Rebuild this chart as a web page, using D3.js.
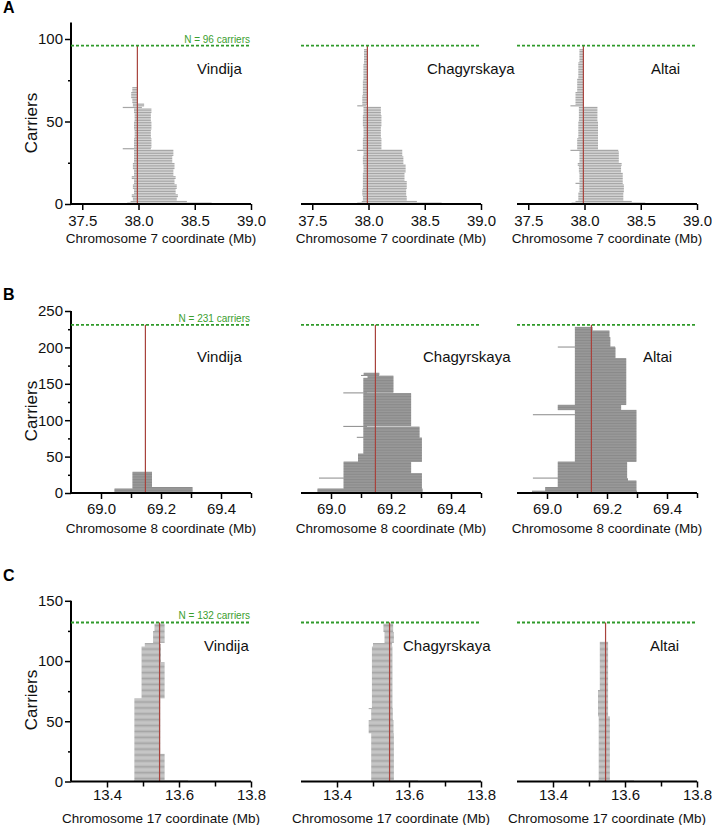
<!DOCTYPE html>
<html><head><meta charset="utf-8">
<script src="https://cdn.jsdelivr.net/npm/d3@7"></script>
<style>
body{margin:0;background:#fff}
svg{display:block;font-family:"Liberation Sans",Arial,sans-serif}
</style></head><body>
<svg id="chart" width="712" height="825"></svg>
<script>
// ---------------- DATA ----------------
const panelNames = ["Vindija", "Chagyrskaya", "Altai"];
const rowLetters = ["A", "B", "C"];
const axisTitles = ["Chromosome 7 coordinate (Mb)", "Chromosome 8 coordinate (Mb)", "Chromosome 17 coordinate (Mb)"];
const carrierTotals = [96, 231, 132];
const focalPositions = [37.99, 69.148, 13.546];
const xDomains = [[37.4, 39.0], [68.9, 69.5], [13.3, 13.8]];
const yDomainMax = [110, 250, 150];
const xMajorTicks = [[37.5, 38.0, 38.5, 39.0], [69.0, 69.2, 69.4], [13.4, 13.6, 13.8]];
const xMinorTicks = [[], [69.1, 69.3, 69.5], [13.5, 13.7]];
const yMajorTicks = [[0, 50, 100], [0, 50, 100, 150, 200, 250], [0, 50, 100, 150]];
const yMinorTicks = [[25, 75], [25, 75, 125, 175, 225], [25, 75, 125]];

// segments: [first carrier, last carrier, start (Mb), end (Mb)]
const chr7Vindija = [
  [1,1,37.90,38.65],[2,2,37.93,38.43],[3,4,37.95,38.34],[5,6,37.94,38.35],[7,9,37.96,38.33],
  [10,12,37.95,38.34],[13,15,37.96,38.32],[16,17,37.94,38.33],[18,21,37.96,38.31],[22,25,37.95,38.32],
  [26,29,37.96,38.30],[30,33,37.96,38.31],[34,34,37.86,38.11],[35,40,37.96,38.115],[41,45,37.965,38.11],
  [46,50,37.96,38.115],[51,55,37.965,38.11],[56,58,37.96,38.115],[59,59,37.86,38.03],[60,61,37.95,38.05],
  [62,64,37.945,37.99],[65,68,37.935,37.99],[69,71,37.945,37.99]
];
const chr7Chagyrskaya = [
  [1,1,37.90,38.65],[2,2,37.94,38.43],[3,5,37.95,38.34],[6,9,37.945,38.335],[10,14,37.95,38.34],
  [15,19,37.95,38.32],[20,24,37.955,38.33],[25,29,37.95,38.31],[30,32,37.955,38.30],[33,33,37.90,38.30],
  [34,40,37.95,38.115],[41,47,37.955,38.11],[48,54,37.95,38.115],[55,59,37.955,38.11],[60,60,37.90,37.98],
  [61,66,37.945,37.99],[67,75,37.95,37.99],[76,85,37.955,37.99],[86,94,37.96,37.99]
];
const chr7Altai = [
  [1,1,37.885,38.54],[2,2,37.92,38.42],[3,7,37.945,38.345],[8,12,37.955,38.35],[13,13,37.92,38.34],
  [14,19,37.955,38.34],[20,23,37.95,38.325],[24,25,37.94,38.33],[26,32,37.955,38.305],[33,33,37.875,38.30],
  [34,40,37.935,38.12],[41,50,37.945,38.12],[51,59,37.95,38.115],[60,60,37.875,37.99],[61,68,37.92,37.995],
  [69,76,37.935,37.995],[77,86,37.945,37.995],[87,94,37.955,37.995]
];
const chr8Vindija = [
  [1,1,68.955,69.305],[2,6,69.045,69.305],[7,8,69.105,69.305],[9,29,69.105,69.17]
];
const chr8Chagyrskaya = [
  [1,1,68.93,69.30],[2,6,68.955,69.305],[7,20,69.042,69.303],[21,21,68.96,69.303],[22,27,69.042,69.303],
  [28,43,69.042,69.267],[44,54,69.09,69.303],[55,76,69.108,69.303],[77,77,69.086,69.295],[78,91,69.108,69.295],
  [92,92,69.041,69.12],[93,137,69.108,69.267],[138,138,69.041,69.12],[139,158,69.108,69.208],
  [159,161,69.122,69.208],[162,162,69.10,69.16],[163,165,69.109,69.161]
];
const chr8Altai = [
  [1,3,68.95,69.30],[4,8,68.994,69.298],[9,17,69.036,69.298],[18,20,69.036,69.27],[21,21,68.953,69.267],
  [22,43,69.036,69.267],[44,107,69.093,69.298],[108,108,68.953,69.298],[109,114,69.093,69.298],
  [115,121,69.036,69.247],[122,185,69.093,69.264],[186,200,69.093,69.228],[201,201,69.036,69.227],
  [202,214,69.093,69.211],[215,223,69.093,69.208],[224,228,69.093,69.152]
];
const chr17Vindija = [
  [1,1,13.475,13.625],[2,23,13.476,13.56],[24,69,13.476,13.548],[70,99,13.496,13.56],[100,112,13.496,13.55],
  [113,114,13.505,13.55],[115,115,13.505,13.545],[116,125,13.528,13.56],[126,131,13.532,13.56]
];
const chr17Chagyrskaya = [
  [1,1,13.495,13.625],[2,40,13.495,13.558],[41,51,13.488,13.557],[52,60,13.495,13.555],[61,61,13.488,13.555],
  [62,112,13.497,13.554],[113,115,13.50,13.553],[116,124,13.532,13.558],[125,131,13.529,13.556]
];
const chr17Altai = [
  [1,1,13.525,13.625],[2,54,13.527,13.558],[55,76,13.525,13.553],[77,116,13.53,13.553]
];
const segmentTables = [
  [chr7Vindija, chr7Chagyrskaya, chr7Altai],
  [chr8Vindija, chr8Chagyrskaya, chr8Altai],
  [chr17Vindija, chr17Chagyrskaya, chr17Altai]
];

// ---------------- LAYOUT ----------------
const svg = d3.select("#chart");
const colX = [71, 301, 517];
const panelW = 180;
const rows = [
  {base: 204, px: 1.65, letterY: 13, titleY: 243, nameY: 74, ylabY: 123, barH: 1.2, barFill: "#a6a6a6", lblGap: 11, nameX: [197, 427, 651]},
  {base: 493, px: 0.728, letterY: 300, titleY: 533, nameY: 362, ylabY: 411, barH: 1.0, barFill: "#8a8a8a", lblGap: 10, nameX: [197, 423, 643]},
  {base: 781.5, px: 1.2047, letterY: 581, titleY: 823, nameY: 651, ylabY: 700, barH: 1.0, barFill: "#a6a6a6", lblGap: 8, nameX: [204, 403, 650]}
];

rows.forEach((L, r) => {
  const y = d3.scaleLinear().domain([0, yDomainMax[r]]).range([L.base, L.base - yDomainMax[r] * L.px]);
  const N = carrierTotals[r];

  // row letter
  svg.append("text").attr("x", 3).attr("y", L.letterY).attr("font-size", 16).attr("font-weight", "bold").text(rowLetters[r]);

  // y axis (first panel only)
  const yAx = svg.append("g").attr("transform", `translate(${colX[0]},0)`);
  yAx.call(d3.axisLeft(y).tickValues(yMinorTicks[r]).tickSize(3).tickFormat(""));
  yAx.call(g => g.select(".domain").remove());
  const yAxMaj = svg.append("g").attr("transform", `translate(${colX[0]},0)`);
  yAxMaj.call(d3.axisLeft(y).tickValues(yMajorTicks[r]).tickSize(6).tickPadding(2).tickFormat(d3.format("d")));
  yAxMaj.select(".domain").attr("d", `M0,${y(0)}V${y(yDomainMax[r])}`).attr("stroke-width", 2);
  yAxMaj.selectAll(".tick line").attr("stroke-width", 1.5);
  yAx.selectAll(".tick line").attr("stroke-width", 1.5);
  yAxMaj.selectAll("text").attr("font-size", 15).attr("font-family", "Liberation Sans, Arial, sans-serif").attr("fill", "#111");

  svg.append("text").attr("transform", `translate(37,${L.ylabY}) rotate(-90)`).attr("text-anchor", "middle")
    .attr("font-size", 17).attr("fill", "#111").text("Carriers");

  colX.forEach((x0, c) => {
    const x = d3.scaleLinear().domain(xDomains[r]).range([x0, x0 + panelW]);
    const g = svg.append("g");

    // carrier segments
    const rowsData = [];
    segmentTables[r][c].forEach(([a, b, s, e]) => { for (let i = a; i <= b; i++) rowsData.push({i, s, e}); });
    g.selectAll("rect.seg").data(rowsData).join("rect").attr("class", "seg")
      .attr("x", d => x(d.s)).attr("width", d => x(d.e) - x(d.s))
      .attr("y", d => y(d.i - 0.5) - L.barH / 2).attr("height", L.barH)
      .attr("fill", L.barFill);

    // focal (red) line
    g.append("line").attr("x1", x(focalPositions[r])).attr("x2", x(focalPositions[r]))
      .attr("y1", y(0)).attr("y2", y(N)).attr("stroke", "#a8423c").attr("stroke-width", 1.2);

    // N line
    g.append("line").attr("x1", x0).attr("x2", x0 + panelW).attr("y1", y(N)).attr("y2", y(N))
      .attr("stroke", "#2f9a2a").attr("stroke-width", 1.8).attr("stroke-dasharray", "3,2");
    if (c === 0) {
      g.append("text").attr("x", x0 + panelW - 1).attr("y", y(N) - 3).attr("text-anchor", "end")
        .attr("font-size", 10).attr("fill", "#3a9e2e").text(`N = ${N} carriers`);
    }

    // x axis
    const xMin = g.append("g").attr("transform", `translate(0,${y(0)})`)
      .call(d3.axisBottom(x).tickValues(xMinorTicks[r]).tickSize(5).tickFormat(""));
    xMin.select(".domain").remove();
    xMin.selectAll(".tick line").attr("stroke-width", 1.5);
    const xAx = g.append("g").attr("transform", `translate(0,${y(0)})`)
      .call(d3.axisBottom(x).tickValues(xMajorTicks[r]).tickSize(6).tickPadding(L.lblGap - 6).tickFormat(d3.format(".1f")));
    xAx.select(".domain").attr("d", `M${x0},0H${x0 + panelW}`).attr("stroke-width", 2);
    xAx.selectAll(".tick line").attr("stroke-width", 1.5);
    xAx.selectAll("text").attr("font-size", 15).attr("font-family", "Liberation Sans, Arial, sans-serif").attr("fill", "#111");

    g.append("text").attr("x", x0 + panelW / 2).attr("y", L.titleY).attr("text-anchor", "middle")
      .attr("font-size", 13.5).attr("fill", "#111").text(axisTitles[r]);

    g.append("text").attr("x", L.nameX[c]).attr("y", L.nameY).attr("font-size", 15).attr("fill", "#111").text(panelNames[c]);
  });
});
</script>
</body></html>
